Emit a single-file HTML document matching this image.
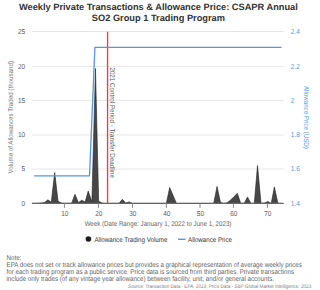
<!DOCTYPE html>
<html><head><meta charset="utf-8"><style>
html,body{margin:0;padding:0;background:#fff;width:320px;height:290px;overflow:hidden}
svg{display:block}
text{font-family:"Liberation Sans",sans-serif;text-rendering:geometricPrecision}
.tk{font-size:6.5px;fill:#5e5e5e}
.tkb{font-size:6.5px;fill:#4f9ae4}
</style></head><body>
<svg width="320" height="290" viewBox="0 0 320 290">
<rect width="320" height="290" fill="#fff"/>
<text x="158.4" y="10.3" text-anchor="middle" font-weight="bold" font-size="9.25" fill="#333">Weekly Private Transactions &amp; Allowance Price: CSAPR Annual</text>
<text x="158.4" y="21.1" text-anchor="middle" font-weight="bold" font-size="9.25" fill="#333">SO2 Group 1 Trading Program</text>
<line x1="31.9" y1="31.50" x2="283.7" y2="31.50" stroke="#e6e6e6" stroke-width="1"/>
<line x1="31.9" y1="66.40" x2="283.7" y2="66.40" stroke="#e6e6e6" stroke-width="1"/>
<line x1="31.9" y1="100.30" x2="283.7" y2="100.30" stroke="#e6e6e6" stroke-width="1"/>
<line x1="31.9" y1="135.00" x2="283.7" y2="135.00" stroke="#e6e6e6" stroke-width="1"/>
<line x1="31.9" y1="169.00" x2="283.7" y2="169.00" stroke="#e6e6e6" stroke-width="1"/>

<path d="M31.90,203.40 L31.90,203.40 L34.38,203.40 L37.77,203.26 L41.15,203.06 L44.53,202.51 L47.91,199.82 L51.30,202.23 L54.68,172.49 L58.06,201.33 L61.45,203.06 L64.83,203.40 L68.21,203.40 L71.60,203.26 L74.98,194.31 L78.36,202.57 L81.75,200.23 L85.13,202.02 L88.21,191.01 L91.89,201.68 L95.48,68.47 L98.66,201.33 L102.04,203.06 L105.43,203.40 L108.81,203.40 L112.19,203.40 L115.58,203.40 L118.96,203.40 L122.34,199.27 L125.72,203.12 L129.11,201.89 L132.49,203.40 L135.87,203.40 L139.26,203.40 L142.64,203.40 L146.02,203.40 L149.41,203.40 L152.79,203.40 L156.17,203.40 L159.55,203.40 L162.94,203.40 L166.32,203.40 L169.70,187.50 L173.09,195.48 L176.47,203.40 L179.85,203.40 L183.24,203.40 L186.62,203.40 L190.00,203.40 L193.38,203.40 L196.77,203.40 L200.15,203.40 L203.53,203.40 L206.92,203.40 L210.30,203.40 L213.68,203.40 L217.06,186.40 L220.45,202.37 L223.83,203.40 L227.21,202.71 L230.60,200.10 L233.98,196.65 L237.36,193.28 L240.75,203.40 L244.13,203.40 L247.51,197.00 L250.90,203.40 L254.28,203.40 L257.51,165.54 L261.04,203.40 L264.43,203.06 L267.81,201.47 L271.19,203.40 L274.38,186.88 L277.96,203.40 L281.34,203.40 L281.34,203.40 Z" fill="#000" fill-opacity="0.72" stroke="none"/>
<path d="M31.90,203.40 L34.38,203.40 L37.77,203.26 L41.15,203.06 L44.53,202.51 L47.91,199.82 L51.30,202.23 L54.68,172.49 L58.06,201.33 L61.45,203.06 L64.83,203.40 L68.21,203.40 L71.60,203.26 L74.98,194.31 L78.36,202.57 L81.75,200.23 L85.13,202.02 L88.21,191.01 L91.89,201.68 L95.48,68.47 L98.66,201.33 L102.04,203.06 L105.43,203.40 L108.81,203.40 L112.19,203.40 L115.58,203.40 L118.96,203.40 L122.34,199.27 L125.72,203.12 L129.11,201.89 L132.49,203.40 L135.87,203.40 L139.26,203.40 L142.64,203.40 L146.02,203.40 L149.41,203.40 L152.79,203.40 L156.17,203.40 L159.55,203.40 L162.94,203.40 L166.32,203.40 L169.70,187.50 L173.09,195.48 L176.47,203.40 L179.85,203.40 L183.24,203.40 L186.62,203.40 L190.00,203.40 L193.38,203.40 L196.77,203.40 L200.15,203.40 L203.53,203.40 L206.92,203.40 L210.30,203.40 L213.68,203.40 L217.06,186.40 L220.45,202.37 L223.83,203.40 L227.21,202.71 L230.60,200.10 L233.98,196.65 L237.36,193.28 L240.75,203.40 L244.13,203.40 L247.51,197.00 L250.90,203.40 L254.28,203.40 L257.51,165.54 L261.04,203.40 L264.43,203.06 L267.81,201.47 L271.19,203.40 L274.38,186.88 L277.96,203.40 L281.34,203.40" fill="none" stroke="#222" stroke-width="0.6"/>
<line x1="31.9" y1="203.45" x2="283.7" y2="203.45" stroke="#666" stroke-width="1.3"/>
<line x1="64.40" y1="203.4" x2="64.40" y2="207.9" stroke="#888" stroke-width="1"/>
<text transform="translate(64.80,216.3) scale(1,1.1)" text-anchor="middle" class="tk">10</text>
<line x1="98.40" y1="203.4" x2="98.40" y2="207.9" stroke="#888" stroke-width="1"/>
<text transform="translate(98.80,216.3) scale(1,1.1)" text-anchor="middle" class="tk">20</text>
<line x1="132.40" y1="203.4" x2="132.40" y2="207.9" stroke="#888" stroke-width="1"/>
<text transform="translate(132.80,216.3) scale(1,1.1)" text-anchor="middle" class="tk">30</text>
<line x1="166.40" y1="203.4" x2="166.40" y2="207.9" stroke="#888" stroke-width="1"/>
<text transform="translate(166.80,216.3) scale(1,1.1)" text-anchor="middle" class="tk">40</text>
<line x1="200.00" y1="203.4" x2="200.00" y2="207.9" stroke="#888" stroke-width="1"/>
<text transform="translate(200.40,216.3) scale(1,1.1)" text-anchor="middle" class="tk">50</text>
<line x1="233.40" y1="203.4" x2="233.40" y2="207.9" stroke="#888" stroke-width="1"/>
<text transform="translate(233.80,216.3) scale(1,1.1)" text-anchor="middle" class="tk">60</text>
<line x1="267.40" y1="203.4" x2="267.40" y2="207.9" stroke="#888" stroke-width="1"/>
<text transform="translate(267.80,216.3) scale(1,1.1)" text-anchor="middle" class="tk">70</text>

<line x1="107.55" y1="31.8" x2="107.55" y2="203.4" stroke="#ff3338" stroke-width="1.35"/>
<text transform="translate(109.7,67.4) rotate(90) scale(1,1.12)" font-size="6.25" fill="#555">2021 Control Period - Transfer Deadline</text>
<path d="M34.6,175.8 L89.5,175.8 L94.9,47.4 L281.0,47.4" fill="none" stroke="#5598dc" stroke-width="1.3" stroke-linejoin="round" stroke-linecap="round"/>
<text transform="translate(25.2,205.70) scale(1,1.1)" text-anchor="end" class="tk">0</text>
<text transform="translate(25.2,171.30) scale(1,1.1)" text-anchor="end" class="tk">5</text>
<text transform="translate(25.2,137.30) scale(1,1.1)" text-anchor="end" class="tk">10</text>
<text transform="translate(25.2,102.60) scale(1,1.1)" text-anchor="end" class="tk">15</text>
<text transform="translate(25.2,68.70) scale(1,1.1)" text-anchor="end" class="tk">20</text>
<text transform="translate(25.2,33.80) scale(1,1.1)" text-anchor="end" class="tk">25</text>

<text transform="translate(290.8,205.70) scale(1,1.1)" class="tkb">1.4</text>
<text transform="translate(290.8,171.30) scale(1,1.1)" class="tkb">1.6</text>
<text transform="translate(290.8,137.30) scale(1,1.1)" class="tkb">1.8</text>
<text transform="translate(290.8,102.60) scale(1,1.1)" class="tkb">2</text>
<text transform="translate(290.8,68.70) scale(1,1.1)" class="tkb">2.2</text>
<text transform="translate(290.8,33.80) scale(1,1.1)" class="tkb">2.4</text>

<text transform="translate(13.2,117.3) rotate(-90) scale(1,1.12)" text-anchor="middle" font-size="6.2" fill="#777">Volume of Allowances Traded (thousand)</text>
<text transform="translate(304.3,117.4) rotate(90) scale(1,1.12)" text-anchor="middle" font-size="6.2" fill="#4f9ae4">Allowance Price (USD)</text>
<text transform="translate(158,226) scale(1,1.12)" text-anchor="middle" font-size="6.2" fill="#666">Week (Date Range: January 1, 2022 to June 1, 2023)</text>
<circle cx="88.4" cy="239" r="2.8" fill="#1c1c1c"/>
<text transform="translate(94.4,241.8) scale(1,1.12)" font-size="6.2" fill="#333">Allowance Trading Volume</text>
<line x1="178" y1="239.3" x2="185.5" y2="239.3" stroke="#5598dc" stroke-width="1.4"/>
<text transform="translate(188,241.8) scale(1,1.12)" font-size="6.2" fill="#333">Allowance Price</text>
<g font-size="6.2" fill="#666">
<text transform="translate(6.5,259.8) scale(1,1.12)">Note:</text>
<text transform="translate(6.5,266.9) scale(1,1.12)">EPA does not set or track allowance prices but provides a graphical representation of average weekly prices</text>
<text transform="translate(6.5,274.1) scale(1,1.12)">for each trading program as a public service. Price data is sourced from third parties. Private transactions</text>
<text transform="translate(6.5,281.3) scale(1,1.12)">include only trades (of any vintage year allowance) between facility, unit, and/or general accounts.</text>
</g>
<text transform="translate(311.2,287.6) scale(1,1.12)" text-anchor="end" font-size="4.63" fill="#808080">Source: Transaction Data - EPA, 2023; Price Data - S&amp;P Global Market Intelligence, 2023</text>
</svg>
</body></html>
